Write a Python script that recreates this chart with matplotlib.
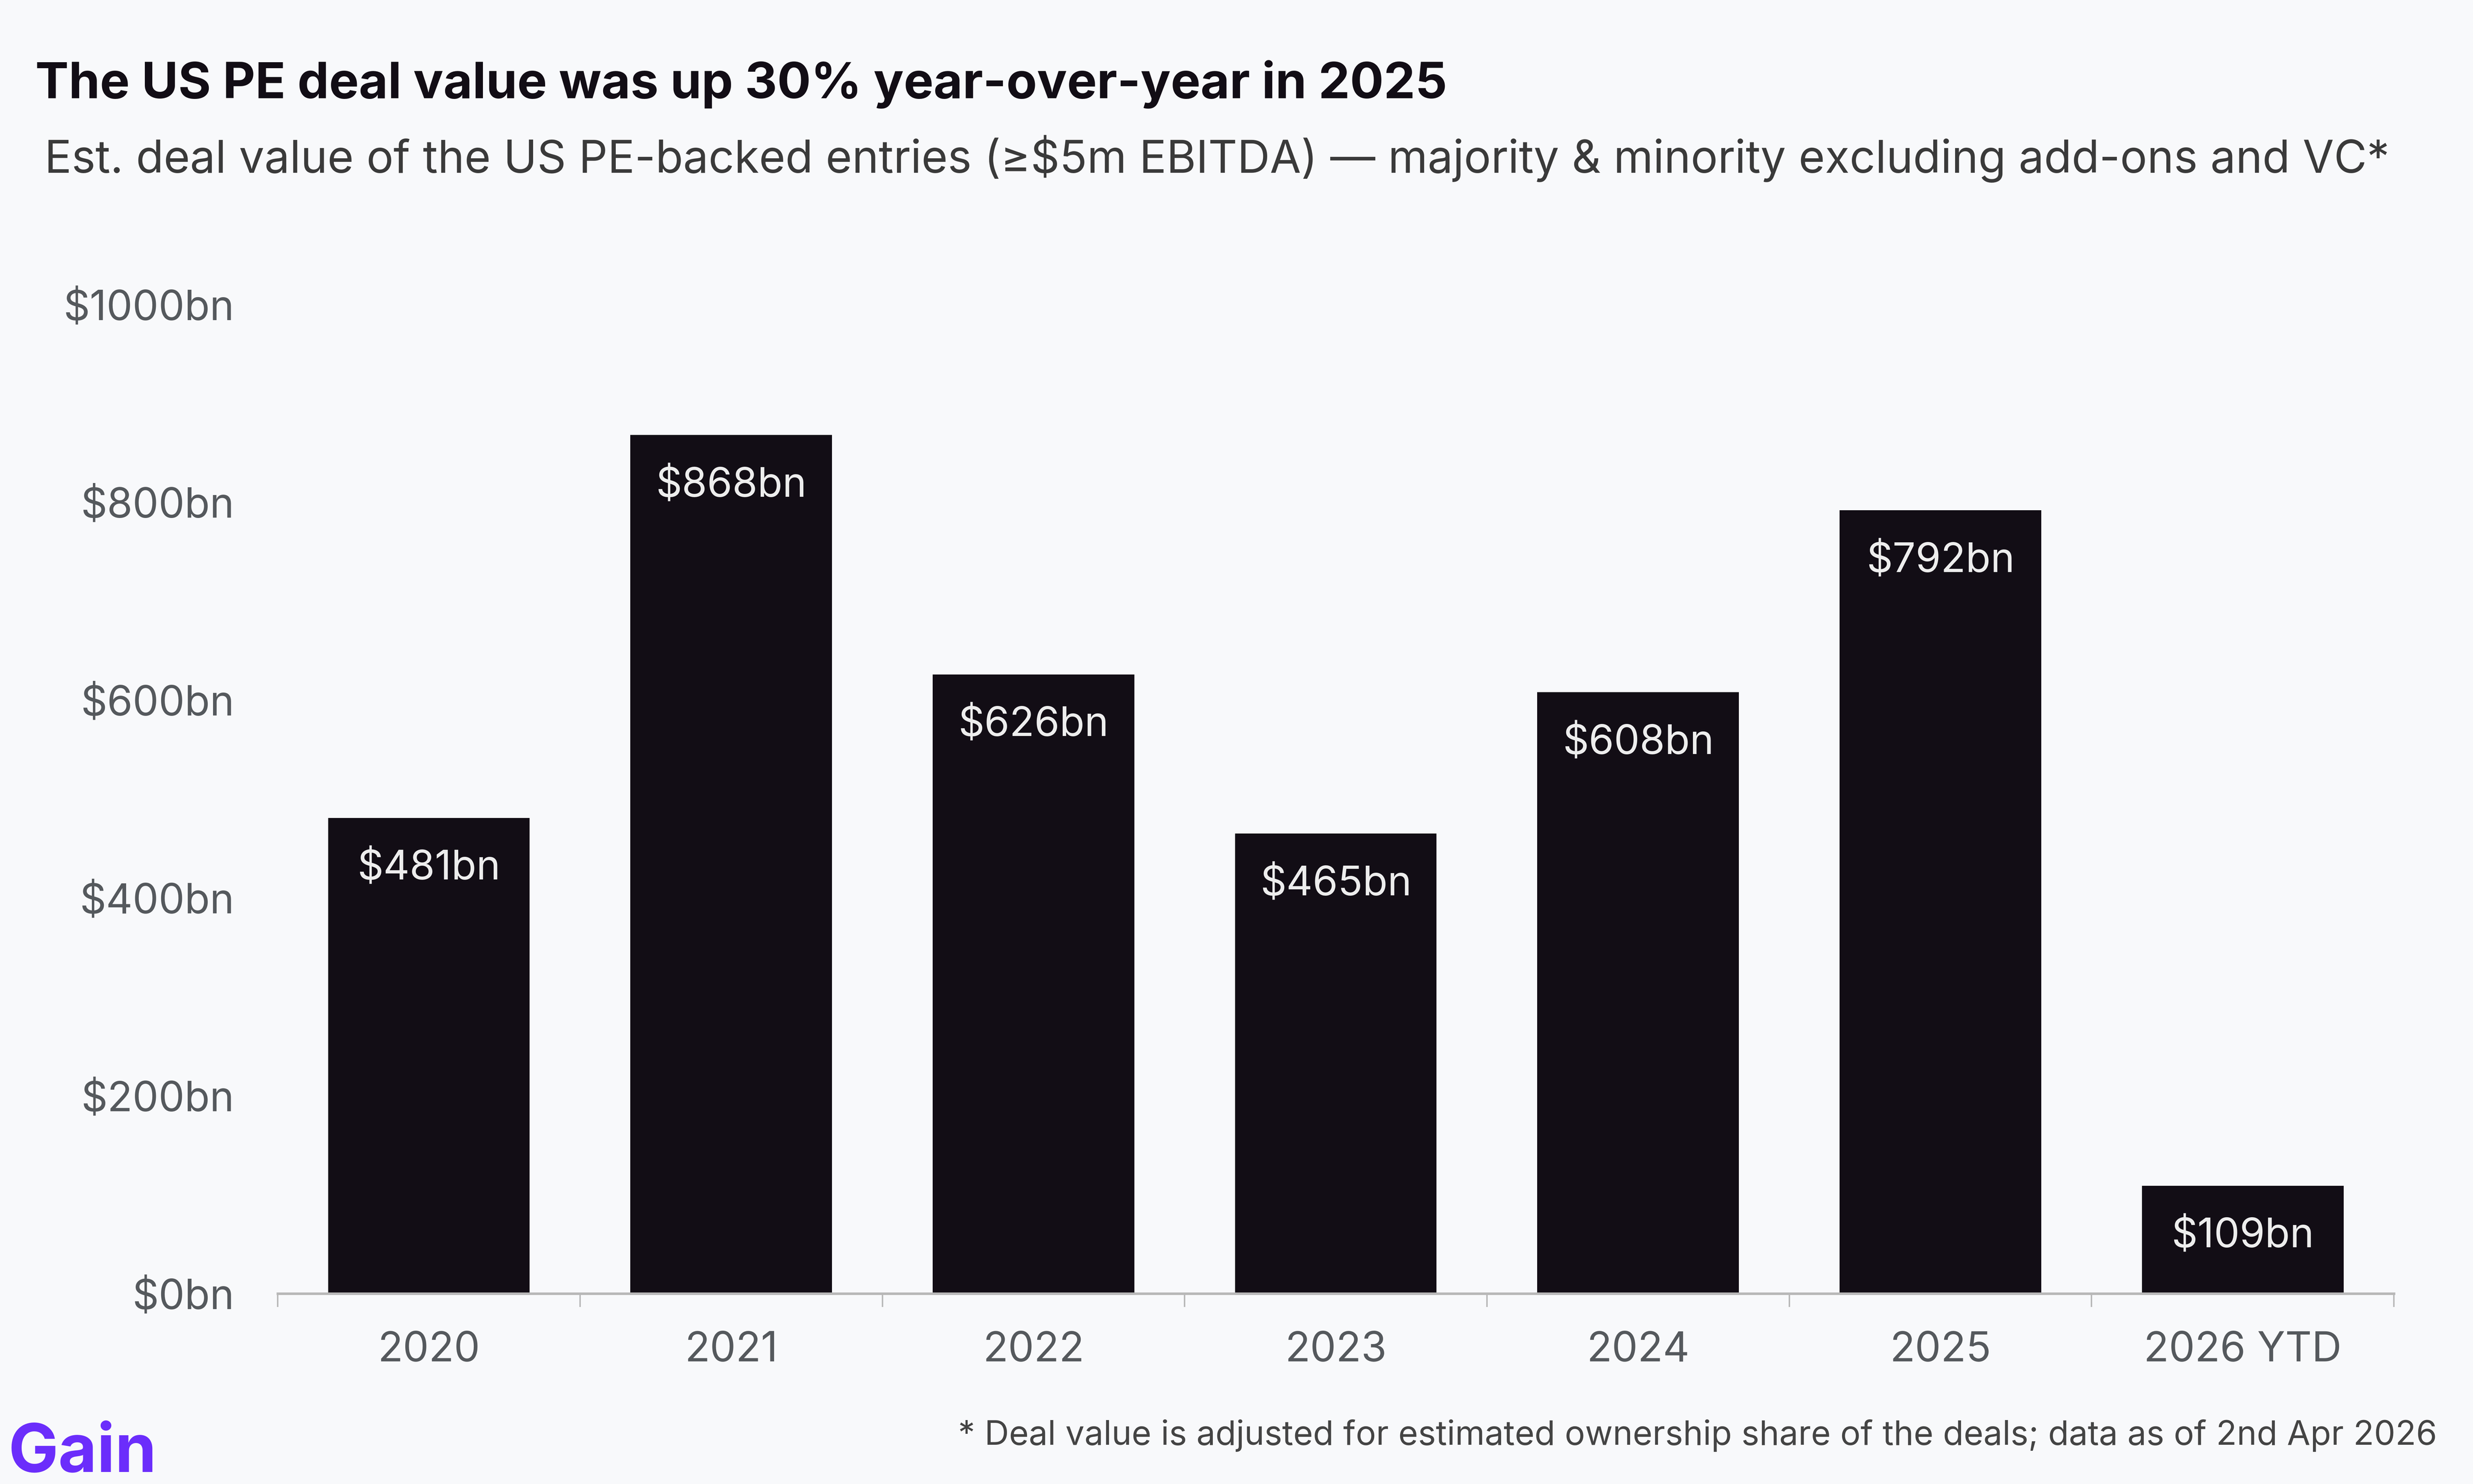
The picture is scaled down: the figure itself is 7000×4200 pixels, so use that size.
from matplotlib import pyplot as plt
from matplotlib.ticker import FixedLocator, NullFormatter
import numpy as np

years = ["2020", "2021", "2022", "2023", "2024", "2025", "2026 YTD"]
deal_value = [481, 868, 626, 465, 608, 792, 109]
y_ticks = [0, 200, 400, 600, 800, 1000]

title = "The US PE deal value was up 30% year-over-year in 2025"
subtitle = "Est. deal value of the US PE-backed entries (\u2265$5m EBITDA) \u2014 majority & minority excluding add-ons and VC*"
footnote = "* Deal value is adjusted for estimated ownership share of the deals; data as of 2nd Apr 2026"

bg = "#f8f9fb"
bar_color = "#120d15"
grey = "#55595d"

plt.rcParams['font.family'] = ['Inter', 'DejaVu Sans']

fig = plt.figure(figsize=(35, 21), dpi=200, facecolor=bg)
ax = fig.add_axes([0.1123, 0.1283, 0.8557, 0.6665])
ax.set_facecolor(bg)

x = np.arange(len(years))
ax.bar(x, deal_value, width=0.667, color=bar_color, zorder=2)

for xi, v in zip(x, deal_value):
    ax.annotate("$%dbn" % v, (xi, v), xytext=(0, -52), textcoords='offset points',
                ha='center', va='center', color='#ededed', fontsize=41.5)

ax.set_xlim(-0.5, len(years) - 0.5)
ax.set_ylim(0, 1000)

# y axis: labels only
ax.set_yticks(y_ticks)
ax.set_yticklabels(["$%dbn" % t for t in y_ticks])
ax.tick_params(axis='y', length=0, pad=44, labelsize=42, labelcolor=grey)

# x axis: boundary ticks, labels at the centres
ax.xaxis.set_major_locator(FixedLocator(np.arange(len(years) + 1) - 0.5))
ax.xaxis.set_major_formatter(NullFormatter())
ax.xaxis.set_minor_locator(FixedLocator(x))
ax.set_xticklabels(years, minor=True)
ax.tick_params(axis='x', which='major', length=13.7, width=1.5, color='#b8b8b8')
ax.tick_params(axis='x', which='minor', length=0, pad=38, labelsize=42, labelcolor=grey)

for s in ['top', 'right', 'left']:
    ax.spines[s].set_visible(False)
ax.spines['bottom'].set_color('#b8b8b8')
ax.spines['bottom'].set_linewidth(2.6)
ax.spines['bottom'].set_zorder(3)

fig.text(0.0143, 0.934, title, fontsize=51, fontweight='bold', color=bar_color, va='baseline')
fig.text(0.0180, 0.8835, subtitle, fontsize=46, color='#3a3a3a', va='baseline')
fig.text(0.9854, 0.0265, footnote, fontsize=34.5, color='#444444', ha='right', va='baseline')
fig.text(0.0034, 0.008, "Gain", fontsize=68, fontweight='bold', color='#6b2dfb', va='baseline')

plt.savefig('out.png', dpi=200, facecolor=bg)
plt.close(fig)
